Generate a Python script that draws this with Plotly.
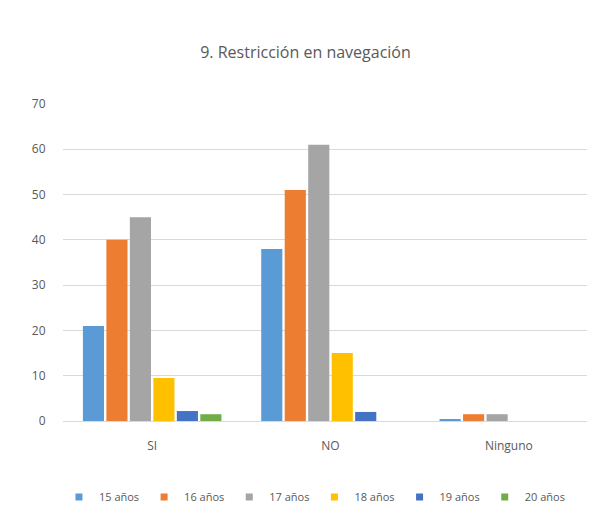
import plotly.graph_objects as go

categories = ["SI", "NO", "Ninguno"]
series_names = ["15 años", "16 años", "17 años", "18 años", "19 años", "20 años"]
v15 = [21, 38, 0.3]
v16 = [40, 51, 1.5]
v17 = [45, 61, 1.5]
v18 = [9.5, 15, 0]
v19 = [2.2, 2, 0]
v20 = [1.5, 0, 0]
values = [v15, v16, v17, v18, v19, v20]
colors = ["#5B9BD5", "#ED7D31", "#A5A5A5", "#FFC000", "#4472C4", "#70AD47"]

fig = go.Figure()
for name, vals, col in zip(series_names, values, colors):
    fig.add_trace(go.Bar(x=categories, y=vals, name=name, showlegend=False,
                         marker=dict(color=col, line=dict(width=0))))
    # small square legend markers, like the original
    fig.add_trace(go.Scatter(x=[None], y=[None], mode="markers", name=name,
                             marker=dict(symbol="square", size=7, color=col)))

font = "Open Sans, Liberation Sans, sans-serif"
fig.update_layout(
    width=595,
    height=514,
    barmode="group",
    bargap=0.21,
    bargroupgap=0.1,
    plot_bgcolor="white",
    paper_bgcolor="white",
    margin=dict(l=55, r=5, t=96, b=101),
    title=dict(
        text="9. Restricción en navegación",
        x=0.5,
        xanchor="center",
        y=1 - 44 / 514,
        yanchor="middle",
        font=dict(family=font, size=16, color="#595959"),
    ),
    font=dict(family=font, size=12, color="#595959"),
    legend=dict(
        orientation="h",
        x=0.47,
        xanchor="center",
        y=-0.24,
        yanchor="middle",
        font=dict(size=11, color="#595959"),
        itemwidth=30,
        tracegroupgap=0,
    ),
    showlegend=True,
)
fig.update_yaxes(
    range=[0, 70],
    dtick=10,
    gridcolor="#D9D9D9",
    zeroline=False,
    showline=False,
    tickfont=dict(size=12, color="#595959"),
    ticks="outside",
    ticklen=14,
    tickcolor="white",
)
fig.update_xaxes(
    showline=True,
    linecolor="#D9D9D9",
    ticks="outside",
    ticklen=14,
    tickcolor="white",
    tickfont=dict(size=12, color="#595959"),
)

fig.write_html("out.html")
